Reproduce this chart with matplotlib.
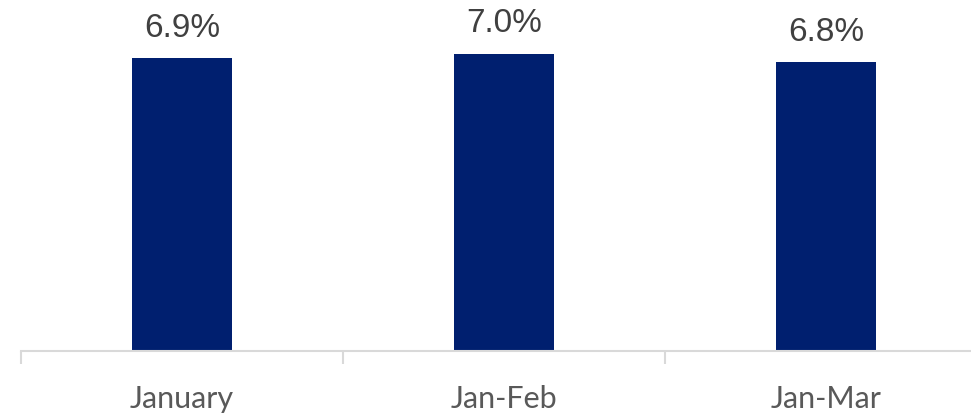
import matplotlib.pyplot as plt

periods = ["January", "Jan-Feb", "Jan-Mar"]
growth = [6.9, 7.0, 6.8]
labels = ["6.9%", "7.0%", "6.8%"]

fig = plt.figure(figsize=(9.71, 4.14), dpi=100)
ax = fig.add_axes([21 / 971, 62 / 414, 966 / 971, 352 / 414])

x = range(len(periods))
bars = ax.bar(x, growth, width=0.31, color="#001F6F")

for bar, text in zip(bars, labels):
    ax.annotate(text, (bar.get_x() + bar.get_width() / 2, bar.get_height()),
                xytext=(0, 11), textcoords="offset points", ha="center", va="bottom",
                fontsize=24, color="#404040", family="Liberation Sans")

ax.set_xlim(-0.5, 2.5)
ax.set_ylim(0, 8.29)
ax.set_yticks([])
ax.set_xticks(list(x))
ax.set_xticklabels(periods, fontsize=22, color="#595959", family="Lato")
ax.tick_params(axis="x", which="major", length=0, pad=24)
ax.set_xticks([-0.5, 0.5, 1.5, 2.5], minor=True)
ax.tick_params(axis="x", which="minor", length=9, width=1.5, color="#D9D9D9", direction="out")

for side in ["top", "left", "right"]:
    ax.spines[side].set_visible(False)
ax.spines["bottom"].set_color("#D9D9D9")
ax.spines["bottom"].set_linewidth(1.5)

fig.savefig("out.png", dpi=100)
